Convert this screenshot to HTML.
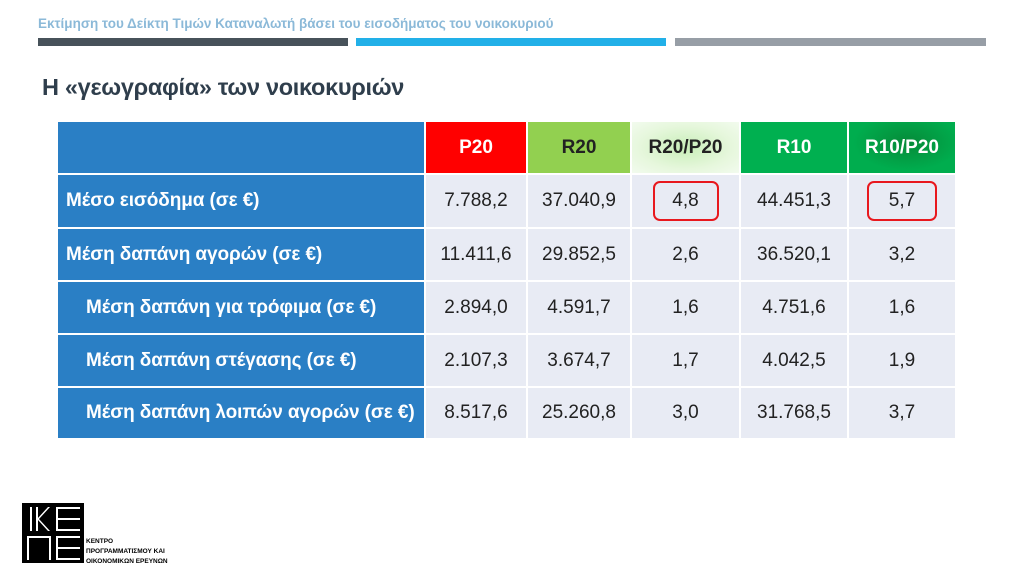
<!DOCTYPE html>
<html><head><meta charset="utf-8"><style>
body{margin:0;width:1024px;height:576px;background:#fff;position:relative;overflow:hidden;font-family:"Liberation Sans","DejaVu Sans",sans-serif}
.a{position:absolute}
.c{position:absolute;display:flex;align-items:center;justify-content:center;font-size:19px;color:#222}
.l{justify-content:flex-start;color:#fff;background:#2a7fc5;padding-left:8px;box-sizing:border-box;font-size:19px;font-weight:bold;letter-spacing:-0.1px}
.b{background:#e8ebf4}
.h{font-size:19px;font-weight:bold}
</style></head><body>
<div class="a" style="left:38px;top:16px;font-size:13.5px;color:#8bb9d8;font-weight:bold">Εκτίμηση του Δείκτη Τιμών Καταναλωτή βάσει του εισοδήματος του νοικοκυριού</div>
<div class="a" style="left:38px;top:38px;width:310px;height:8px;background:#47525a"></div>
<div class="a" style="left:356px;top:38px;width:310px;height:8px;background:#22b0e8"></div>
<div class="a" style="left:675px;top:38px;width:311px;height:8px;background:#979ea6"></div>
<div class="a" style="left:42px;top:74px;font-size:23.5px;color:#2f3e4c;font-weight:bold;letter-spacing:-0.3px">Η «γεωγραφία» των νοικοκυριών</div>

<div class="c l" style="left:58px;top:122px;width:366px;height:51px"></div>
<div class="c h" style="left:426px;top:122px;width:100px;height:51px;background:#ff0000;color:#fff">P20</div>
<div class="c h" style="left:528px;top:122px;width:102px;height:51px;background:#92d050">R20</div>
<div class="c h" style="left:632px;top:122px;width:107px;height:51px;background:radial-gradient(ellipse at center,#c8eeb8,#e6f7dc 60%,#f2fbee)">R20/P20</div>
<div class="c h" style="left:741px;top:122px;width:106px;height:51px;background:#00b050;color:#fff">R10</div>
<div class="c h" style="left:849px;top:122px;width:106px;height:51px;background:radial-gradient(ellipse at 55% 40%,#068a38,#00ad4e 65%);color:#fff">R10/P20</div>

<div class="c l" style="left:58px;top:175px;width:366px;height:52px">Μέσο εισόδημα (σε €)</div>
<div class="c b" style="left:426px;top:175px;width:100px;height:52px">7.788,2</div>
<div class="c b" style="left:528px;top:175px;width:102px;height:52px">37.040,9</div>
<div class="c b" style="left:632px;top:175px;width:107px;height:52px"><div style="border:2px solid #e8181e;border-radius:7px;width:62px;height:36px;display:flex;align-items:center;justify-content:center">4,8</div></div>
<div class="c b" style="left:741px;top:175px;width:106px;height:52px">44.451,3</div>
<div class="c b" style="left:849px;top:175px;width:106px;height:52px"><div style="border:2px solid #e8181e;border-radius:7px;width:66px;height:36px;display:flex;align-items:center;justify-content:center">5,7</div></div>

<div class="c l" style="left:58px;top:229px;width:366px;height:51px">Μέση δαπάνη αγορών (σε €)</div>
<div class="c b" style="left:426px;top:229px;width:100px;height:51px">11.411,6</div>
<div class="c b" style="left:528px;top:229px;width:102px;height:51px">29.852,5</div>
<div class="c b" style="left:632px;top:229px;width:107px;height:51px">2,6</div>
<div class="c b" style="left:741px;top:229px;width:106px;height:51px">36.520,1</div>
<div class="c b" style="left:849px;top:229px;width:106px;height:51px">3,2</div>

<div class="c l" style="left:58px;top:282px;width:366px;height:51px;padding-left:28px">Μέση δαπάνη για τρόφιμα (σε €)</div>
<div class="c b" style="left:426px;top:282px;width:100px;height:51px">2.894,0</div>
<div class="c b" style="left:528px;top:282px;width:102px;height:51px">4.591,7</div>
<div class="c b" style="left:632px;top:282px;width:107px;height:51px">1,6</div>
<div class="c b" style="left:741px;top:282px;width:106px;height:51px">4.751,6</div>
<div class="c b" style="left:849px;top:282px;width:106px;height:51px">1,6</div>

<div class="c l" style="left:58px;top:335px;width:366px;height:51px;padding-left:28px">Μέση δαπάνη στέγασης (σε €)</div>
<div class="c b" style="left:426px;top:335px;width:100px;height:51px">2.107,3</div>
<div class="c b" style="left:528px;top:335px;width:102px;height:51px">3.674,7</div>
<div class="c b" style="left:632px;top:335px;width:107px;height:51px">1,7</div>
<div class="c b" style="left:741px;top:335px;width:106px;height:51px">4.042,5</div>
<div class="c b" style="left:849px;top:335px;width:106px;height:51px">1,9</div>

<div class="c l" style="left:58px;top:388px;width:366px;height:50px;padding-left:28px">Μέση δαπάνη λοιπών αγορών (σε €)</div>
<div class="c b" style="left:426px;top:388px;width:100px;height:50px">8.517,6</div>
<div class="c b" style="left:528px;top:388px;width:102px;height:50px">25.260,8</div>
<div class="c b" style="left:632px;top:388px;width:107px;height:50px">3,0</div>
<div class="c b" style="left:741px;top:388px;width:106px;height:50px">31.768,5</div>
<div class="c b" style="left:849px;top:388px;width:106px;height:50px">3,7</div>

<svg class="a" style="left:22px;top:503px" width="62" height="60" viewBox="0 0 62 60">
<rect x="0" y="0" width="62" height="60" fill="#000"/>
<g fill="#fff">
<rect x="8" y="4" width="2" height="24"/>
<path d="M14 4 L14 28 L16 28 L16 17 L26 28 L28 28 L17 16 L28 4 L26 4 L16 15 L16 4Z"/>
<rect x="34" y="4" width="2" height="24"/><rect x="34" y="4" width="24" height="2"/><rect x="34" y="15" width="24" height="2"/><rect x="34" y="26" width="24" height="2"/>
<rect x="5" y="33" width="24" height="2"/><rect x="5" y="33" width="2" height="24"/><rect x="27" y="33" width="2" height="24"/>
<rect x="34" y="33" width="2" height="24"/><rect x="34" y="33" width="24" height="2"/><rect x="34" y="44" width="24" height="2"/><rect x="34" y="55" width="24" height="2"/>
</g></svg>
<div class="a" style="left:86px;top:537px;font-size:6.5px;line-height:10px;color:#000;font-weight:bold">ΚΕΝΤΡΟ<br>ΠΡΟΓΡΑΜΜΑΤΙΣΜΟΥ ΚΑΙ<br>ΟΙΚΟΝΟΜΙΚΩΝ ΕΡΕΥΝΩΝ</div>
</body></html>
